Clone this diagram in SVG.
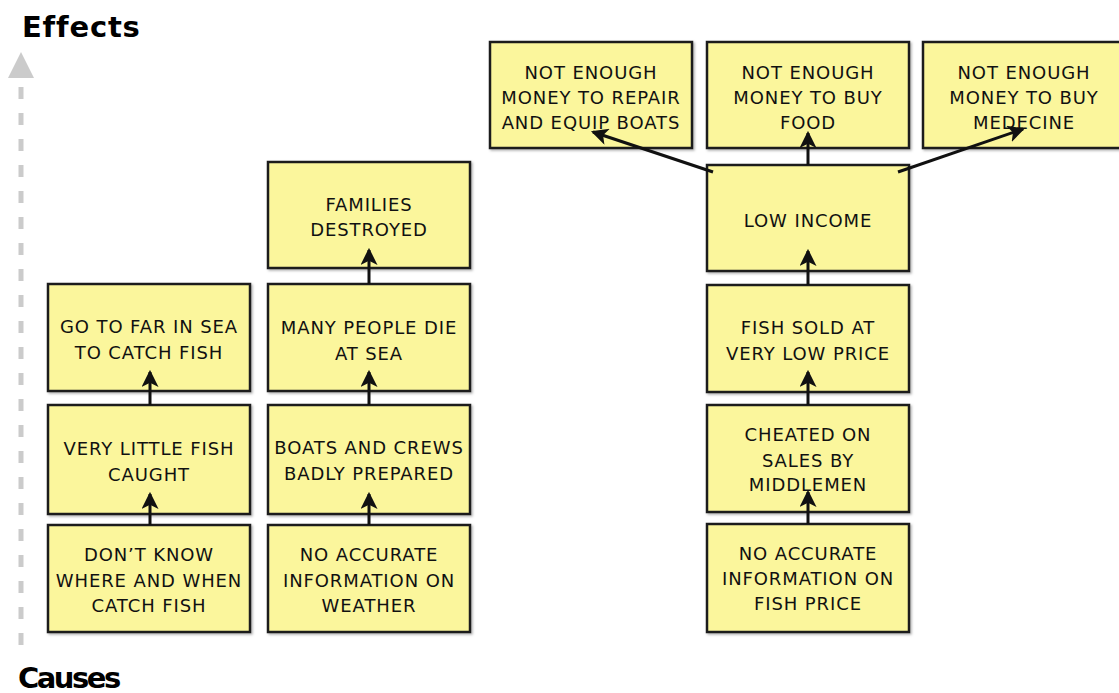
<svg xmlns="http://www.w3.org/2000/svg" width="1119" height="693" viewBox="0 0 1119 693">
  <defs>
    <marker id="head" viewBox="0 0 16 16" refX="14" refY="8" markerWidth="17" markerHeight="17" markerUnits="userSpaceOnUse" orient="auto">
      <path d="M0,0 L16,8 L0,16 L4,8 Z" fill="#111"/>
    </marker>
    <filter id="shadow" x="-5%" y="-5%" width="112%" height="115%">
      <feDropShadow dx="1.5" dy="1.5" stdDeviation="1" flood-color="#000" flood-opacity="0.3"/>
    </filter>
  </defs>
  <style>
    .box { fill: #fbf69c; stroke: #1c1c1c; stroke-width: 2.5; filter: url(#shadow); }
    .lbl { font-family: "DejaVu Sans", "Liberation Sans", sans-serif; font-size: 18px; fill: #111; text-anchor: middle; letter-spacing: 0.9px; }
    .title { font-family: "DejaVu Sans", "Liberation Sans", sans-serif; font-size: 29px; font-weight: bold; fill: #000; }
    .link { stroke: #111; stroke-width: 3; fill: none; marker-end: url(#head); }
    .axis { stroke: #cbcbcb; stroke-width: 5; stroke-dasharray: 12 14; fill: none; }
  </style>
  <rect width="1119" height="693" fill="#fff"/>

  <!-- axis from causes up to effects -->
  <g id="axis">
    <line class="axis" x1="21" y1="645" x2="21" y2="80"/>
    <path d="M21,52 L34,78 L8,78 Z" fill="#cbcbcb"/>
    <text class="title" x="22" y="37" letter-spacing="0.8">Effects</text>
    <text class="title" x="18" y="688" letter-spacing="-2.5">Causes</text>
  </g>

  <!-- left chain -->
  <g id="n-far-sea">
    <rect class="box" x="48" y="284" width="202" height="107"/>
    <text class="lbl" x="149" y="333">GO TO FAR IN SEA</text>
    <text class="lbl" x="149" y="359">TO CATCH FISH</text>
  </g>
  <g id="n-little-fish">
    <rect class="box" x="48" y="405" width="202" height="109"/>
    <text class="lbl" x="149" y="455">VERY LITTLE FISH</text>
    <text class="lbl" x="149" y="481">CAUGHT</text>
  </g>
  <g id="n-dont-know">
    <rect class="box" x="48" y="525" width="202" height="107"/>
    <text class="lbl" x="149" y="561">DON’T KNOW</text>
    <text class="lbl" x="149" y="587">WHERE AND WHEN</text>
    <text class="lbl" x="149" y="612">CATCH FISH</text>
  </g>

  <!-- second chain -->
  <g id="n-families">
    <rect class="box" x="268" y="162" width="202" height="106"/>
    <text class="lbl" x="369" y="211">FAMILIES</text>
    <text class="lbl" x="369" y="236">DESTROYED</text>
  </g>
  <g id="n-die-at-sea">
    <rect class="box" x="268" y="284" width="202" height="107"/>
    <text class="lbl" x="369" y="334">MANY PEOPLE DIE</text>
    <text class="lbl" x="369" y="360">AT SEA</text>
  </g>
  <g id="n-badly-prepared">
    <rect class="box" x="268" y="405" width="202" height="109"/>
    <text class="lbl" x="369" y="454">BOATS AND CREWS</text>
    <text class="lbl" x="369" y="480">BADLY PREPARED</text>
  </g>
  <g id="n-no-weather">
    <rect class="box" x="268" y="525" width="202" height="107"/>
    <text class="lbl" x="369" y="561">NO ACCURATE</text>
    <text class="lbl" x="369" y="587">INFORMATION ON</text>
    <text class="lbl" x="369" y="612">WEATHER</text>
  </g>

  <!-- top row of effects -->
  <g id="n-repair">
    <rect class="box" x="490" y="42" width="202" height="106"/>
    <text class="lbl" x="591" y="79">NOT ENOUGH</text>
    <text class="lbl" x="591" y="104">MONEY TO REPAIR</text>
    <text class="lbl" x="591" y="129">AND EQUIP BOATS</text>
  </g>
  <g id="n-food">
    <rect class="box" x="707" y="42" width="202" height="106"/>
    <text class="lbl" x="808" y="79">NOT ENOUGH</text>
    <text class="lbl" x="808" y="104">MONEY TO BUY</text>
    <text class="lbl" x="808" y="129">FOOD</text>
  </g>
  <g id="n-medecine">
    <rect class="box" x="923" y="42" width="202" height="106"/>
    <text class="lbl" x="1024" y="79">NOT ENOUGH</text>
    <text class="lbl" x="1024" y="104">MONEY TO BUY</text>
    <text class="lbl" x="1024" y="129">MEDECINE</text>
  </g>

  <!-- right chain -->
  <g id="n-low-income">
    <rect class="box" x="707" y="165" width="202" height="106"/>
    <text class="lbl" x="808" y="227">LOW INCOME</text>
  </g>
  <g id="n-low-price">
    <rect class="box" x="707" y="285" width="202" height="107"/>
    <text class="lbl" x="808" y="334">FISH SOLD AT</text>
    <text class="lbl" x="808" y="360">VERY LOW PRICE</text>
  </g>
  <g id="n-cheated">
    <rect class="box" x="707" y="405" width="202" height="107"/>
    <text class="lbl" x="808" y="441">CHEATED ON</text>
    <text class="lbl" x="808" y="467">SALES BY</text>
    <text class="lbl" x="808" y="491">MIDDLEMEN</text>
  </g>
  <g id="n-no-price">
    <rect class="box" x="707" y="524" width="202" height="108"/>
    <text class="lbl" x="808" y="560">NO ACCURATE</text>
    <text class="lbl" x="808" y="585">INFORMATION ON</text>
    <text class="lbl" x="808" y="610">FISH PRICE</text>
  </g>

  <g id="connectors">
    <line class="link" x1="150" y1="525" x2="150" y2="494"/>
    <line class="link" x1="150" y1="405" x2="150" y2="372"/>
    <line class="link" x1="369" y1="525" x2="369" y2="494"/>
    <line class="link" x1="369" y1="405" x2="369" y2="372"/>
    <line class="link" x1="369" y1="284" x2="369" y2="250"/>
    <line class="link" x1="808" y1="524" x2="808" y2="492"/>
    <line class="link" x1="808" y1="405" x2="808" y2="372"/>
    <line class="link" x1="808" y1="285" x2="808" y2="251"/>
    <line class="link" x1="808" y1="165" x2="808" y2="133"/>
    <line class="link" x1="713" y1="172" x2="593" y2="132"/>
    <line class="link" x1="898" y1="172" x2="1023" y2="129"/>
  </g>
</svg>
